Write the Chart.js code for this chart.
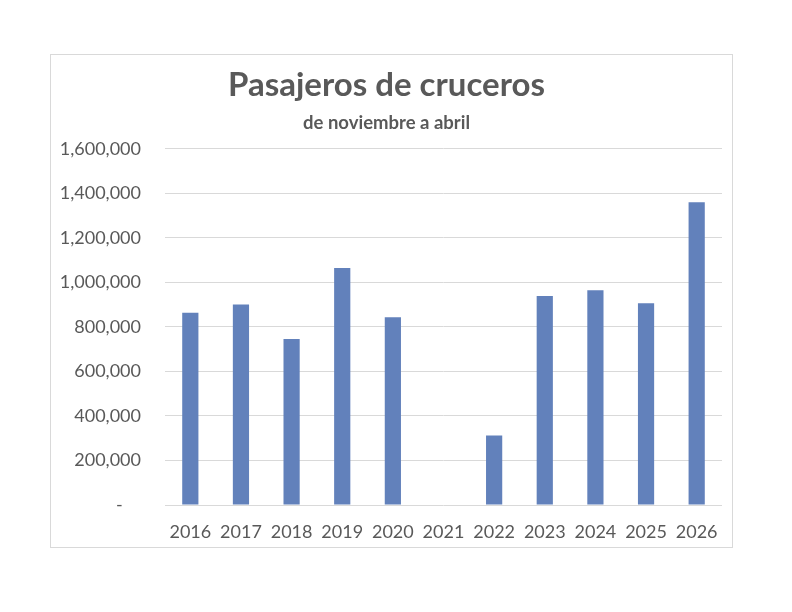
<!DOCTYPE html>
<html>
<head>
<meta charset="utf-8">
<script src="https://cdn.jsdelivr.net/npm/chart.js@4.4.0/dist/chart.umd.min.js"></script>
<style>
  body { margin: 0; background: #fff; }
  #box {
    position: absolute; left: 50px; top: 54px;
    width: 683px; height: 494px;
    border: 1px solid #d9d9d9; box-sizing: border-box;
  }
</style>
</head>
<body>
<div id="box"><canvas id="chart"></canvas></div>
<script>
// Cruise passengers, November to April
const years = ["2016", "2017", "2018", "2019", "2020", "2021", "2022", "2023", "2024", "2025", "2026"];
const passengers = [864000, 901000, 746000, 1065000, 843000, 0, 312000, 939000, 965000, 906000, 1360000];
const yTicks = [0, 200000, 400000, 600000, 800000, 1000000, 1200000, 1400000, 1600000];

const textColor = "#595959";
const fontFamily = "Lato, 'Open Sans', sans-serif";

const canvas = document.getElementById("chart");

new Chart(canvas, {
  type: "bar",
  data: {
    labels: years,
    datasets: [{
      data: passengers,
      backgroundColor: "#6281bb",
      barPercentage: 0.32,
      categoryPercentage: 1.0,
    }],
  },
  options: {
    responsive: true,
    maintainAspectRatio: false,
    animation: false,
    layout: { padding: { left: 0, right: 10, top: 0, bottom: 0 } },
    plugins: {
      legend: { display: false },
      tooltip: { enabled: false },
      title: {
        display: true,
        text: "Pasajeros de cruceros",
        color: textColor,
        font: { family: fontFamily, size: 33, weight: "bold" },
        padding: { top: 11, bottom: 0 },
      },
      subtitle: {
        display: true,
        text: "de noviembre a abril",
        color: textColor,
        font: { family: fontFamily, size: 18.5, weight: "bold" },
        padding: { top: 6, bottom: 15 },
      },
    },
    scales: {
      x: {
        grid: { display: false },
        border: { display: false },
        ticks: {
          color: textColor,
          font: { family: fontFamily, size: 18 },
          padding: 8,
        },
        afterFit: function (scale) { scale.height = 42; },
      },
      y: {
        min: 0,
        max: 1600000,
        afterBuildTicks: function (scale) {
          scale.ticks = yTicks.map(v => ({ value: v }));
        },
        grid: { color: "#d9d9d9", drawTicks: false },
        border: { display: false },
        ticks: {
          color: textColor,
          font: { family: fontFamily, size: 18 },
          padding: 24,
          callback: function (value) {
            return value === 0 ? "-    " : value.toLocaleString("en-US");
          },
        },
        afterFit: function (scale) { scale.width = 114; },
      },
    },
  },
});
</script>
</body>
</html>
